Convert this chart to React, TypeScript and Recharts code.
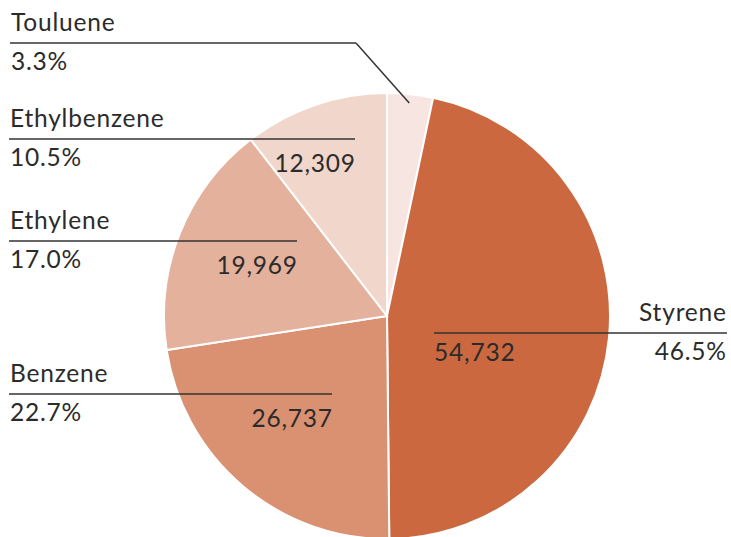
import React from 'react';
import { PieChart, Pie, Cell } from 'recharts';

const categories = ['Touluene', 'Styrene', 'Benzene', 'Ethylene', 'Ethylbenzene'];
const values = [3900, 54732, 26737, 19969, 12309];
const colors = ['#F6E5E0', '#CB683F', '#D99172', '#E4B19C', '#F0D6CB'];

const data = categories.map((name, i) => ({ name, value: values[i] }));

// annotation layout (label columns and leader lines)
const labelLayout: Record<string, { lineY: number; x1: number; x2: number; side: 'left' | 'right'; showValue: boolean; elbow?: boolean }> = {
  Touluene: { lineY: 43, x1: 10, x2: 356, side: 'left', showValue: false, elbow: true },
  Styrene: { lineY: 333, x1: 434, x2: 727, side: 'right', showValue: true },
  Benzene: { lineY: 394, x1: 9, x2: 332, side: 'left', showValue: true },
  Ethylene: { lineY: 241, x1: 9, x2: 297, side: 'left', showValue: true },
  Ethylbenzene: { lineY: 139, x1: 9, x2: 355, side: 'left', showValue: true },
};

const FONT = 'Lato, "Open Sans", sans-serif';
const TEXT = '#2b2b2b';
const FS = 24.5;
const LS = 0.8;

const T = (p: any) => (
  <text fill={TEXT} fontSize={FS} fontFamily={FONT} fontWeight={400} letterSpacing={LS} {...p} />
);

const renderLabel = (props: any) => {
  const { name, value, percent, cx, cy, midAngle, outerRadius } = props;
  const L = labelLayout[name];
  if (!L) return null;
  const pct = (percent * 100).toFixed(1) + '%';
  const valStr = Number(value).toLocaleString('en-US');
  const els: any[] = [];
  els.push(<line key="l" x1={L.x1} y1={L.lineY} x2={L.x2} y2={L.lineY} stroke="#333" strokeWidth={1.5} />);
  if (L.elbow) {
    const RAD = Math.PI / 180;
    const r = outerRadius * 0.96;
    const ex = cx + r * Math.cos(-midAngle * RAD);
    const ey = cy + r * Math.sin(-midAngle * RAD);
    els.push(<line key="e" x1={L.x2} y1={L.lineY} x2={ex} y2={ey} stroke="#333" strokeWidth={1.5} />);
  }
  if (L.side === 'left') {
    els.push(<T key="n" x={L.x1 + 1} y={L.lineY - 12} textAnchor="start">{name}</T>);
    els.push(<T key="p" x={L.x1 + 1} y={L.lineY + 27} textAnchor="start">{pct}</T>);
    if (L.showValue) {
      els.push(<T key="v" x={L.x2 + LS} y={L.lineY + 33} textAnchor="end">{valStr}</T>);
    }
  } else {
    els.push(<T key="n" x={L.x2 + LS - 1} y={L.lineY - 12} textAnchor="end">{name}</T>);
    els.push(<T key="p" x={L.x2 + LS - 1} y={L.lineY + 27} textAnchor="end">{pct}</T>);
    els.push(<T key="v" x={L.x1} y={L.lineY + 28} textAnchor="start">{valStr}</T>);
  }
  return <g key={name}>{els}</g>;
};

export default function App() {
  return (
    <div style={{ position: 'absolute', left: 0, top: 0, width: 731, height: 537, background: '#fff' }}>
      <PieChart width={731} height={537} margin={{ top: 0, right: 0, bottom: 0, left: 0 }}>
        <Pie
          data={data}
          dataKey="value"
          nameKey="name"
          cx={387}
          cy={316}
          outerRadius={223}
          startAngle={90}
          endAngle={-270}
          stroke="#fff"
          strokeWidth={2}
          isAnimationActive={false}
          labelLine={false}
          label={renderLabel}
        >
          {data.map((d, i) => (
            <Cell key={d.name} fill={colors[i]} />
          ))}
        </Pie>
      </PieChart>
    </div>
  );
}
